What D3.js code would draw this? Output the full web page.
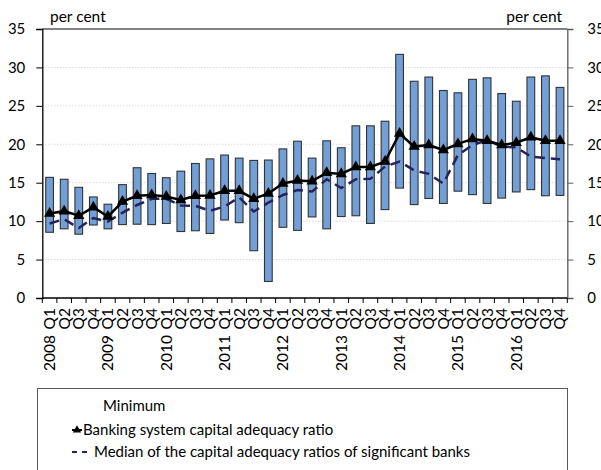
<!DOCTYPE html>
<html>
<head>
<meta charset="utf-8">
<script src="https://cdn.jsdelivr.net/npm/d3@7"></script>
<style>
  body { margin: 0; background: #fff; }
  svg text { font-family: Lato, "Liberation Sans", sans-serif; fill: #000; }
</style>
</head>
<body>
<svg width="601" height="470"></svg>
<script>
const years = ["2008", "2009", "2010", "2011", "2012", "2013", "2014", "2015", "2016"];
const quarterNames = ["Q1", "Q2", "Q3", "Q4"];
const quarters = years.flatMap(y => quarterNames.map(q => y + " " + q));

// maximum / minimum of the banks' ratios (floating bars)
const maxVals = [15.7, 15.45, 14.4, 13.15, 12.2, 14.75, 16.95, 16.2, 15.65, 16.5, 17.5, 18.1,
                 18.6, 18.2, 17.9, 17.95, 19.4, 20.4, 18.2, 20.45, 19.55, 22.4, 22.4, 23.0,
                 31.7, 28.2, 28.75, 27.0, 26.7, 28.45, 28.65, 26.6, 25.6, 28.75, 28.9, 27.4];
const minVals = [8.55, 9.0, 8.3, 9.5, 9.0, 9.55, 9.6, 9.55, 9.7, 8.65, 8.75, 8.4,
                 10.15, 9.8, 6.15, 2.15, 9.2, 8.8, 10.55, 9.0, 10.6, 10.7, 9.7, 11.5,
                 14.3, 12.15, 12.95, 12.3, 13.9, 13.45, 12.3, 13.0, 13.8, 14.1, 13.3, 13.35];
const systemRatio = [11.0, 11.3, 10.7, 11.8, 10.6, 12.55, 13.3, 13.4, 13.2, 12.75, 13.3, 13.35,
                     13.95, 13.95, 12.9, 13.6, 14.9, 15.3, 15.2, 16.3, 16.15, 17.05, 17.05, 17.75,
                     21.4, 19.7, 19.9, 19.25, 20.05, 20.7, 20.45, 19.9, 20.2, 20.9, 20.45, 20.45];
const medianRatio = [9.7, 10.25, 9.1, 10.4, 9.95, 11.1, 12.1, 12.9, 12.9, 12.05, 12.0, 11.35,
                     11.9, 13.1, 11.25, 12.4, 13.4, 14.05, 13.85, 15.45, 14.3, 15.45, 15.5, 17.1,
                     17.75, 16.6, 16.15, 14.9, 18.6, 19.9, 20.55, 19.7, 19.6, 18.4, 18.2, 18.05];
const yTicks = [0, 5, 10, 15, 20, 25, 30, 35];
const legendItems = ["Minimum", "Banking system capital adequacy ratio",
                     "Median of the capital adequacy ratios of significant banks"];

const svg = d3.select("svg");
const plotLeft = 42.3, plotRight = 567.3, plotTop = 29, plotBottom = 298;

const x = d3.scaleBand().domain(quarters).range([plotLeft, plotRight]);
const y = d3.scaleLinear().domain([0, 35]).range([plotBottom, plotTop]);
const bw = x.bandwidth() * 0.53;
const cx = d => x(d) + x.bandwidth() / 2;

// gridlines
svg.append("g")
  .selectAll("line")
  .data(yTicks.filter(t => t > 0 && t < 35))
  .join("line")
  .attr("x1", plotLeft).attr("x2", plotRight)
  .attr("y1", d => y(d)).attr("y2", d => y(d))
  .attr("stroke", "#c9c9c9")
  .attr("stroke-dasharray", "1,2");

// top border
svg.append("line")
  .attr("x1", plotLeft).attr("x2", plotRight)
  .attr("y1", y(35)).attr("y2", y(35))
  .attr("stroke", "#595959").attr("stroke-width", 1.3);

// floating bars
svg.append("g")
  .selectAll("rect")
  .data(quarters)
  .join("rect")
  .attr("x", d => cx(d) - bw / 2)
  .attr("width", bw)
  .attr("y", (d, i) => y(maxVals[i]))
  .attr("height", (d, i) => y(minVals[i]) - y(maxVals[i]))
  .attr("fill", "#72a0d6")
  .attr("stroke", "#333")
  .attr("stroke-width", 1.1);

// median line
svg.append("path")
  .datum(medianRatio)
  .attr("fill", "none")
  .attr("stroke", "#23235f")
  .attr("stroke-width", 2.5)
  .attr("stroke-dasharray", "10,6")
  .attr("d", d3.line().x((d, i) => cx(quarters[i])).y(d => y(d)));

// banking system line
svg.append("path")
  .datum(systemRatio)
  .attr("fill", "none")
  .attr("stroke", "#000")
  .attr("stroke-width", 2.5)
  .attr("d", d3.line().x((d, i) => cx(quarters[i])).y(d => y(d)));

const tri = d3.symbol().type(d3.symbolTriangle).size(55);
svg.append("g")
  .selectAll("path")
  .data(systemRatio)
  .join("path")
  .attr("d", tri)
  .attr("transform", (d, i) => `translate(${cx(quarters[i])},${y(d)})`)
  .attr("fill", "#000");

// axes
const leftAxis = svg.append("g")
  .attr("transform", `translate(${plotLeft},0)`)
  .call(d3.axisLeft(y).tickValues(yTicks).tickSize(6).tickPadding(11));
leftAxis.select(".domain").attr("stroke", "#000").attr("stroke-width", 1.3);

const rightAxis = svg.append("g")
  .attr("transform", `translate(${plotRight},0)`)
  .call(d3.axisRight(y).tickValues(yTicks).tickSize(6).tickPadding(14));
rightAxis.selectAll("line, .domain").attr("stroke", "#595959");
rightAxis.select(".domain").attr("stroke-width", 1.3);

[leftAxis, rightAxis].forEach(a => a.selectAll("text")
  .style("font-family", "Lato, sans-serif").style("font-size", "15px").attr("fill", "#000"));

// x axis: line and ticks at category boundaries
svg.append("line")
  .attr("x1", plotLeft).attr("x2", plotRight)
  .attr("y1", plotBottom).attr("y2", plotBottom)
  .attr("stroke", "#000").attr("stroke-width", 1.3);

svg.append("g")
  .selectAll("line")
  .data(quarters.concat(["end"]))
  .join("line")
  .attr("x1", (d, i) => plotLeft + i * x.bandwidth())
  .attr("x2", (d, i) => plotLeft + i * x.bandwidth())
  .attr("y1", plotBottom).attr("y2", plotBottom + 5)
  .attr("stroke", "#000");

svg.append("g")
  .selectAll("text")
  .data(quarters)
  .join("text")
  .attr("transform", d => `translate(${cx(d)},308) rotate(-90)`)
  .attr("text-anchor", "end")
  .attr("dy", "0.35em")
  .style("font-size", "15.5px")
  .text(d => d.split(" ")[1]);

svg.append("g")
  .selectAll("text")
  .data(years)
  .join("text")
  .attr("transform", d => `translate(${cx(d + " Q1")},335) rotate(-90)`)
  .attr("text-anchor", "end")
  .attr("dy", "0.35em")
  .style("font-size", "15.5px")
  .text(d => d);

// unit labels
svg.append("text").attr("x", 50).attr("y", 22).style("font-size", "15.5px").text("per cent");
svg.append("text").attr("x", 562).attr("y", 22).attr("text-anchor", "end")
  .style("font-size", "15.5px").text("per cent");

// legend
const lg = svg.append("g");
lg.append("rect")
  .attr("x", 37.5).attr("y", 388.5)
  .attr("width", 530).attr("height", 100)
  .attr("fill", "#fff").attr("stroke", "#595959");

lg.append("text").attr("x", 103).attr("y", 411).style("font-size", "15px").text(legendItems[0]);

lg.append("line").attr("x1", 72).attr("x2", 82).attr("y1", 430).attr("y2", 430)
  .attr("stroke", "#000").attr("stroke-width", 2);
lg.append("path").attr("d", d3.symbol().type(d3.symbolTriangle).size(30))
  .attr("transform", "translate(77,430)").attr("fill", "#000");
lg.append("text").attr("x", 83).attr("y", 435).style("font-size", "15px").text(legendItems[1]);

lg.append("line").attr("x1", 72).attr("x2", 88).attr("y1", 452).attr("y2", 452)
  .attr("stroke", "#23235f").attr("stroke-width", 2).attr("stroke-dasharray", "5,5");
lg.append("text").attr("x", 94).attr("y", 457).style("font-size", "15px").text(legendItems[2]);
</script>
</body>
</html>
